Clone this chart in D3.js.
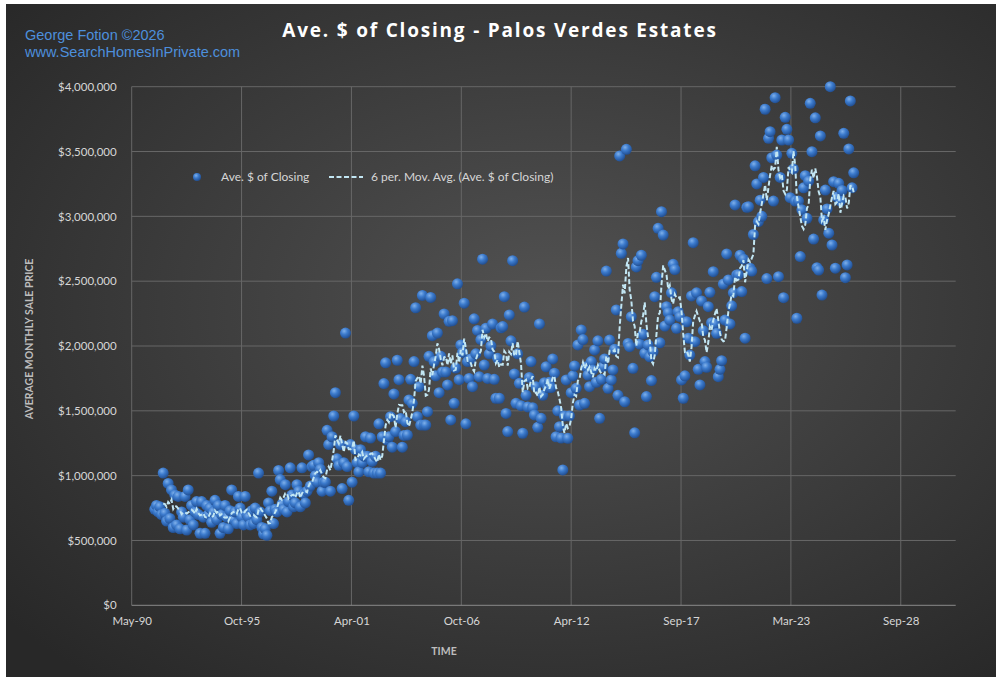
<!DOCTYPE html>
<html>
<head>
<meta charset="utf-8">
<script src="https://cdn.jsdelivr.net/npm/d3@7"></script>
<style>
    html, body { margin: 0; padding: 0; background: #fff; }
    svg { display: block; }
    text { font-family: Lato, "Open Sans", sans-serif; }
</style>
</head>
<body>
<svg id="chart"></svg>
<script>
// monthly average closing price, in $ thousands, starting July 1991
const firstYear = 1991
const firstMonth = 6   // 0-based: July
const avgPrice = [
    740, 770, 720, 760, 700, 1020,                                   // 1991 (Jul-Dec)
    710, 650, 940, 670, 890, 600, 850, 620, 840, 590, 720, 680,     // 1992
    840, 580, 890, 660, 770, 620, 720, 800, 700, 555, 800, 680,     // 1993
    555, 770, 700, 750, 640, 720, 810, 660, 770, 555, 700, 600,     // 1994
    770, 680, 590, 730, 890, 660, 720, 630, 840, 750, 680, 620,     // 1995
    840, 700, 680, 620, 730, 630, 750, 660, 1020, 720, 600, 550,    // 1996
    590, 540, 790, 730, 880, 630, 740, 720, 1040, 970, 780, 740,    // 1997
    930, 720, 800, 1060, 850, 760, 790, 930, 880, 760, 1060, 860,   // 1998
    790, 880, 1160, 920, 1070, 1080, 1000, 950, 1100, 1050, 880, 950,       // 1999
    950, 1350, 1240, 880, 1300, 1460, 1640, 1130, 1080, 1240, 900, 1100,    // 2000
    2100, 1070, 810, 1240, 950, 1460, 1200, 1100, 1030, 1200, 1100, 1150,   // 2001
    1300, 1150, 1030, 1290, 1110, 1020, 1150, 1020, 1400, 1020, 1300, 1710, // 2002
    1870, 1275, 1300, 1455, 1220, 1630, 1340, 1890, 1740, 1440, 1220, 1310, // 2003
    1416, 1313, 1584, 1743, 1558, 1880, 2295, 1455, 1686, 1390, 2390, 1390, // 2004
    1390, 1493, 1920, 2375, 2080, 1880, 1770, 2100, 1640, 1920, 1800, 2247, // 2005
    1800, 1700, 2190, 1430, 2195, 1558, 1830, 2480, 1740, 2008, 1950, 2330, // 2006
    1400, 1880, 1750, 1900, 1686, 2210, 1940, 2120, 1763, 2050, 2670, 1853, // 2007
    2137, 1750, 1940, 2000, 2170, 1743, 1597, 1905, 1597, 2140, 2150, 2380, // 2008
    1480, 1340, 2240, 2040, 2658, 1784, 1558, 1940, 1712, 1540, 1327, 2300, // 2009
    1620, 1530, 1758, 1880, 1524, 1468, 1686, 1373, 2170, 1442, 1620, 1717, // 2010
    1840, 1680, 1720, 1680, 1900, 1790, 1300, 1500, 1378, 1290, 1044, 1460, // 2011
    1738, 1288, 1460, 1640, 1770, 1846, 1674, 2008, 1545, 2124, 2050, 1558, // 2012
    1840, 1776, 1686, 1880, 1815, 1970, 1720, 2040, 1442, 1743, 1840, 1900, // 2013
    2578, 1674, 2046, 1738, 1815, 1975, 2278, 1620, 3466, 2715, 2787, 1570, // 2014
    3517, 2020, 1995, 2226, 1828, 1330, 2610, 2658, 2015, 2700, 2090, 1944, // 2015
    1610, 2008, 1917, 1733, 1956, 2380, 2530, 2908, 2025, 3036, 2856, 2154, // 2016
    2303, 2257, 2200, 2410, 2630, 2590, 2136, 2265, 2226, 1738, 1597, 1770, // 2017
    2187, 2060, 1930, 2386, 2797, 2033, 2410, 1820, 1700, 2347, 2118, 1880, // 2018
    1836, 2303, 2414, 2180, 2573, 2170, 2098, 1763, 1820, 1887, 2478, 2200, // 2019
    2710, 2510, 2170, 2310, 2410, 3088, 2548, 2550, 2700, 2420, 2670, 2060, // 2020
    3070, 3074, 2600, 2578, 2860, 3390, 3250, 2960, 3125, 3000, 3300, 3826, // 2021
    2520, 3602, 3653, 3452, 3118, 3915, 3473, 2535, 3300, 3589, 2373, 3764, // 2022
    3671, 3589, 3144, 3486, 3365, 3118, 2214, 3118, 2690, 3050, 3220, 3314, // 2023
    2985, 3272, 3872, 3499, 2825, 3760, 2604, 2586, 3620, 2393, 2972, 3203, // 2024
    3057, 2870, 4000, 2779, 3267, 2600, 3150, 3255, 3118, 3200, 3640, 2527, // 2025
    2625, 3520, 3890, 3220, 3336                                      // 2026
]

const yTicks = [0, 500000, 1000000, 1500000, 2000000, 2500000, 3000000, 3500000, 4000000]
// axis positions as spreadsheet date serials
const xTickSerials = [33000, 35000, 37000, 39000, 41000, 43000, 45000, 47000]
const xDomainSerials = [33000, 48000]
const maPeriod = 6

const titleText = 'Ave. $ of Closing - Palos Verdes Estates'
const creditLines = ['George Fotion ©2026', 'www.SearchHomesInPrivate.com']
const seriesName = 'Ave. $ of Closing'
const maName = '6 per. Mov. Avg. (Ave. $ of Closing)'

function fromSerial(s) {
    return new Date(Date.UTC(1899, 11, 30) + s * 864e5)
}

const data = avgPrice.map((v, i) => ({
    date: new Date(Date.UTC(firstYear, firstMonth + i, 1)),
    value: v * 1000
}))
const ma = data.slice(maPeriod - 1).map((d, i) => ({
    date: d.date,
    value: d3.mean(data.slice(i, i + maPeriod), e => e.value)
}))

const W = 1000, H = 680
const plot = {left: 131.7, right: 955.7, top: 86.7, bottom: 605.3}

const svg = d3.select('#chart').attr('width', W).attr('height', H)
const defs = svg.append('defs')

const bg = defs.append('radialGradient').attr('id', 'bg')
    .attr('cx', '55%').attr('cy', '45%').attr('r', '72%')
bg.append('stop').attr('offset', '0%').attr('stop-color', '#525252')
bg.append('stop').attr('offset', '100%').attr('stop-color', '#282828')

const ball = defs.append('radialGradient').attr('id', 'ball')
    .attr('cx', '38%').attr('cy', '32%').attr('r', '68%')
ball.append('stop').attr('offset', '0%').attr('stop-color', '#7fb0ea')
ball.append('stop').attr('offset', '45%').attr('stop-color', '#3c7bcd')
ball.append('stop').attr('offset', '100%').attr('stop-color', '#214f93')

svg.append('rect')
    .attr('x', 6).attr('y', 4).attr('width', 990).attr('height', 673)
    .attr('fill', 'url(#bg)')

const x = d3.scaleUtc()
    .domain(xDomainSerials.map(fromSerial))
    .range([plot.left, plot.right])
const y = d3.scaleLinear()
    .domain([0, 4000000])
    .range([plot.bottom, plot.top])

// gridlines
const grid = svg.append('g').attr('stroke', '#676767').attr('stroke-width', 1)
grid.selectAll('line.h').data(yTicks.slice(1)).enter().append('line')
    .attr('x1', plot.left).attr('x2', plot.right)
    .attr('y1', d => y(d)).attr('y2', d => y(d))
grid.selectAll('line.v').data(xTickSerials).enter().append('line')
    .attr('x1', d => x(fromSerial(d))).attr('x2', d => x(fromSerial(d)))
    .attr('y1', plot.top).attr('y2', plot.bottom)

// axes
const yAxis = svg.append('g')
    .attr('transform', `translate(${plot.left},0)`)
    .call(d3.axisLeft(y).tickValues(yTicks).tickFormat(d3.format('$,.0f')).tickSize(0).tickPadding(15))
yAxis.select('.domain').remove()

const xAxis = svg.append('g')
    .attr('transform', `translate(0,${plot.bottom})`)
    .call(d3.axisBottom(x).tickValues(xTickSerials.map(fromSerial))
        .tickFormat(d3.utcFormat('%b-%y')).tickSize(0).tickPadding(12))
xAxis.select('.domain').attr('stroke', '#8a8a8a').attr('d', `M${plot.left},0H${plot.right}`)

svg.selectAll('.tick text')
    .attr('fill', '#d6d6d6')
    .style('font-size', '11.5px')

// axis titles
svg.append('text')
    .attr('transform', 'translate(33,339) rotate(-90)')
    .attr('text-anchor', 'middle')
    .attr('fill', '#bdbdbd')
    .style('font-size', '10.5px').style('font-weight', 'bold')
    .text('AVERAGE MONTHLY SALE PRICE')
svg.append('text')
    .attr('x', 444).attr('y', 655)
    .attr('text-anchor', 'middle')
    .attr('fill', '#bdbdbd')
    .style('font-size', '10.5px').style('font-weight', 'bold')
    .text('TIME')

// points
svg.append('g').selectAll('circle').data(data).enter().append('circle')
    .attr('cx', d => x(d.date))
    .attr('cy', d => y(d.value))
    .attr('r', 5.5)
    .attr('fill', 'url(#ball)')

// moving average
const line = d3.line().x(d => x(d.date)).y(d => y(d.value))
svg.append('path')
    .datum(ma)
    .attr('d', line)
    .attr('fill', 'none')
    .attr('stroke', '#c2e6f3')
    .attr('stroke-width', 2)
    .attr('stroke-dasharray', '5,2.5')

// legend
const legend = svg.append('g').attr('transform', 'translate(0,177)')
legend.append('circle').attr('cx', 197).attr('cy', 0).attr('r', 4).attr('fill', 'url(#ball)')
legend.append('text').attr('x', 221).attr('dy', '0.35em')
    .attr('fill', '#d6d6d6').style('font-size', '12px').text(seriesName)
legend.append('line').attr('x1', 329).attr('x2', 363)
    .attr('stroke', '#c2e6f3').attr('stroke-width', 2).attr('stroke-dasharray', '5,2.5')
legend.append('text').attr('x', 371).attr('dy', '0.35em')
    .attr('fill', '#d6d6d6').style('font-size', '12px').text(maName)

// title and credit
svg.append('text')
    .attr('x', 500).attr('y', 37)
    .attr('text-anchor', 'middle')
    .attr('fill', '#ffffff')
    .style('font-family', '"Open Sans", Lato, sans-serif')
    .style('font-size', '19px').style('font-weight', 'bold').style('letter-spacing', '1.8px')
    .text(titleText)

svg.append('g').selectAll('text').data(creditLines).enter().append('text')
    .attr('x', 25).attr('y', (d, i) => 40 + i * 17)
    .attr('fill', '#4d8fdc')
    .style('font-family', '"Liberation Sans", Arial, sans-serif')
    .style('font-size', '14.5px')
    .text(d => d)
</script>
</body>
</html>
